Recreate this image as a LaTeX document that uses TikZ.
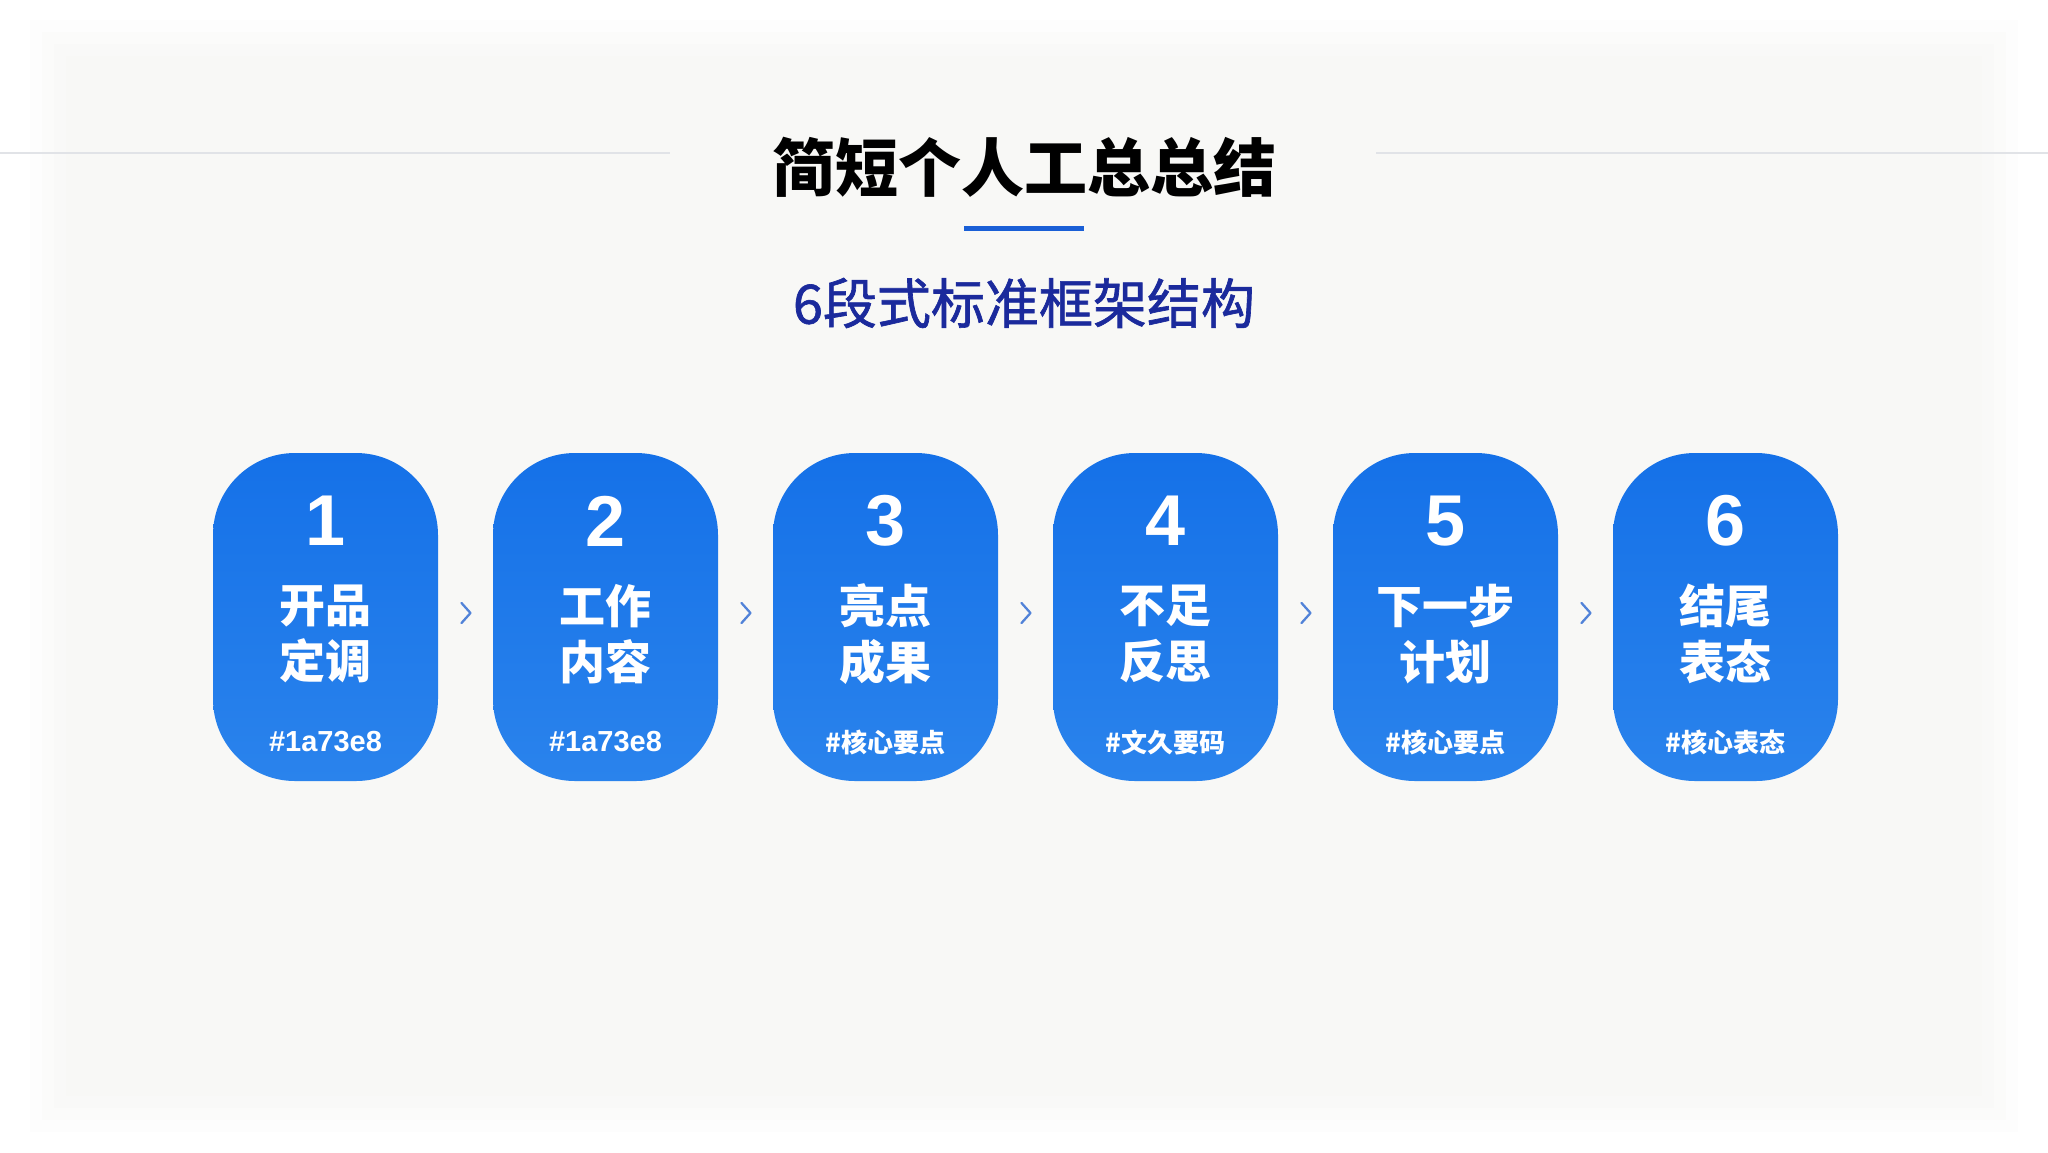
\documentclass[tikz,border=0pt]{standalone}
\usepackage{fontspec}
\setmainfont{Noto Sans CJK SC}
\newfontfamily\latinf{Liberation Sans}
\usetikzlibrary{calc}
\definecolor{cardtop}{HTML}{1571E8}
\definecolor{cardbot}{HTML}{2A83EC}
\definecolor{navy}{HTML}{1B2A9C}
\definecolor{ulblue}{HTML}{1A5FD6}
\definecolor{rule}{HTML}{E1E3E7}
\definecolor{chev}{HTML}{5283D8}
\definecolor{bg}{HTML}{F6F6F1}
\begin{document}
\begin{tikzpicture}[x=1pt,y=-1pt,
  card/.style={minimum width=225pt, minimum height=328pt, rounded corners=82pt,
    top color=cardtop, bottom color=cardbot, draw=none, inner sep=0pt},
  num/.style={text=white, font=\fontsize{72}{72}\selectfont\latinf\bfseries, inner sep=0pt},
  lbl/.style={text=white, align=center, font=\fontsize{46}{56}\selectfont\bfseries, inner sep=0pt},
  tag/.style={text=white, font=\fontsize{26}{26}\selectfont\bfseries, inner sep=0pt},
  chevline/.style={draw=chev, line width=2.3pt, line cap=round, line join=round},
  rulel/.style={draw=rule, line width=2pt}
]
\useasboundingbox (0,0) rectangle (2048,1152);
\fill[white] (0,0) rectangle (2048,1152);
\foreach \i/\o in {0/0.12,12/0.18,24/0.22,36/0.26}{
  \fill[bg, opacity=\o] (30+\i,20+\i) rectangle (2018-\i,1132-\i);
}

% rules and title
\coordinate (rl1) at (0,153);
\coordinate (rl2) at (670,153);
\coordinate (rr1) at (1376,153);
\coordinate (rr2) at (2048,153);
\draw[rulel] (rl1) -- (rl2);
\draw[rulel] (rr1) -- (rr2);
\node[inner sep=0pt, font=\fontsize{63}{63}\selectfont\bfseries] (title) at (1024,167) {简短个人工总总结};
\coordinate (u1) at (964,228);
\coordinate (u2) at (1084,228);
\draw[draw=ulblue, line width=5pt] (u1) -- (u2);
\node[inner sep=0pt, text=navy, font=\fontsize{54}{54}\selectfont\addfontfeature{FakeBold=1.2}] (sub) at (1024,303) {6段式标准框架结构};

% cards
\foreach \k/\x/\n/\la/\lb/\t in {
  1/325.5/1/开品/定调/{\fontsize{29}{29}\selectfont\latinf\#1a73e8},
  2/605.5/2/工作/内容/{\fontsize{29}{29}\selectfont\latinf\#1a73e8},
  3/885.5/3/亮点/成果/\#核心要点,
  4/1165.5/4/不足/反思/\#文久要码,
  5/1445.5/5/下一步/计划/\#核心要点,
  6/1725.5/6/结尾/表态/\#核心表态}{
  \node[card] (c\k) at (\x,617) {};
  \node[num] (n\k) at ($(c\k.center)+(0,-96)$) {\n};
  \node[lbl] (l\k) at ($(c\k.center)+(0,17)$) {\la\\\lb};
  \node[tag] (t\k) at ($(c\k.center)+(0,125)$) {\t};
}

% chevrons between cards
\foreach \a/\b in {1/2,2/3,3/4,4/5,5/6}{
  \coordinate (m\a) at ($(c\a.east)!0.5!(c\b.west)$);
  \draw[chevline] ($(m\a)+(-4,-14)$) -- ($(m\a)+(5,-4)$) -- ($(m\a)+(-4,6)$);
}
\end{tikzpicture}
\end{document}
